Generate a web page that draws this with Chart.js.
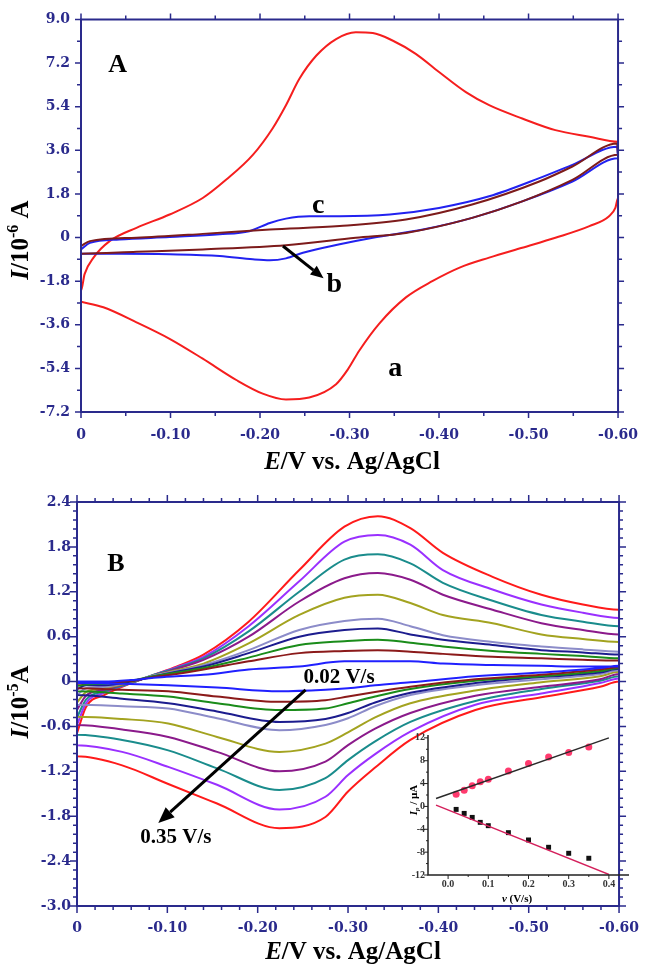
<!DOCTYPE html>
<html><head><meta charset="utf-8">
<script src="https://cdn.jsdelivr.net/npm/chart.js@4.4.1/dist/chart.umd.min.js"></script>
<style>
html,body{margin:0;padding:0;background:#fff;}
#wrap{position:relative;width:653px;height:969px;overflow:hidden;background:#fff;}
canvas{position:absolute;}
</style></head><body>
<div id="wrap">
<canvas id="cA" width="653" height="484" style="left:0;top:0;width:653px;height:484px"></canvas>
<canvas id="cB" width="653" height="485" style="left:0;top:484px;width:653px;height:485px"></canvas>
<canvas id="cI" width="253" height="192" style="left:380px;top:725px;width:253px;height:192px"></canvas>
</div>
<script>
// ---------------- Panel A data (E in V, I in 10^-6 A) ----------------
const A_X_TICKS = [0, -0.1, -0.2, -0.3, -0.4, -0.5, -0.6];
const A_Y_TICKS = [-7.2, -5.4, -3.6, -1.8, 0, 1.8, 3.6, 5.4, 7.2, 9.0];

const A_a_E = [0, -0.025, -0.062, -0.099, -0.136, -0.174, -0.203, -0.229, -0.255, -0.285, -0.298, -0.311, -0.333, -0.363, -0.393, -0.423, -0.456, -0.493, -0.530, -0.568, -0.590, -0.597, -0.600,
               -0.600, -0.568, -0.530, -0.493, -0.456, -0.430, -0.400, -0.374, -0.348, -0.326, -0.307, -0.285, -0.263, -0.244, -0.229, -0.214, -0.192, -0.162, -0.136, -0.099, -0.062, -0.032, -0.014, -0.004, 0, 0];
const A_a_I = [-2.65, -2.88, -3.50, -4.18, -5.00, -5.89, -6.44, -6.68, -6.60, -6.05, -5.45, -4.66, -3.56, -2.47, -1.79, -1.24, -0.83, -0.42, -0.01, 0.47, 0.88, 1.22, 1.63,
               3.95, 4.16, 4.43, 4.91, 5.46, 6.00, 6.83, 7.58, 8.13, 8.44, 8.47, 8.19, 7.51, 6.55, 5.46, 4.50, 3.41, 2.38, 1.63, 0.95, 0.40, -0.15, -0.83, -1.51, -2.20, -2.65];

const A_b_E = [0, -0.010, -0.062, -0.136, -0.211, -0.289, -0.363, -0.437, -0.512, -0.549, -0.599,
               -0.600, -0.549, -0.493, -0.437, -0.363, -0.307, -0.229, -0.136, -0.062, 0, 0];
const A_b_I = [-0.35, -0.15, -0.01, 0.15, 0.33, 0.47, 0.74, 1.36, 2.31, 2.93, 3.88,
               3.41, 2.38, 1.49, 0.81, 0.19, -0.01, -0.32, -0.49, -0.59, -0.67, -0.35];

const A_c_E = [0, -0.010, -0.043, -0.099, -0.155, -0.188, -0.211, -0.229, -0.255, -0.289, -0.345, -0.400, -0.456, -0.512, -0.549, -0.599,
               -0.600, -0.549, -0.493, -0.437, -0.382, -0.326, -0.289, -0.248, -0.229, -0.211, -0.192, -0.155, -0.099, -0.043, 0, 0];
const A_c_I = [-0.49, -0.22, -0.08, 0.02, 0.13, 0.26, 0.60, 0.78, 0.88, 0.88, 0.95, 1.22, 1.70, 2.45, 3.00, 3.75,
               3.27, 2.31, 1.49, 0.81, 0.33, -0.01, -0.28, -0.63, -0.86, -0.94, -0.90, -0.76, -0.69, -0.67, -0.67, -0.49];

// ---------------- Panel B data (E in V, I in 10^-5 A) ----------------
const B_X_TICKS = [0, -0.1, -0.2, -0.3, -0.4, -0.5, -0.6];
const B_Y_TICKS = [-3.0, -2.4, -1.8, -1.2, -0.6, 0, 0.6, 1.2, 1.8, 2.4];
const SCAN_RATES = [0.02, 0.04, 0.06, 0.08, 0.10, 0.15, 0.20, 0.25, 0.30, 0.35];
const B_E_FWD = [0, -0.01, -0.03, -0.06, -0.085, -0.11, -0.14, -0.19, -0.246, -0.296, -0.333, -0.369, -0.405, -0.46, -0.514, -0.56, -0.60];
const B_E_REV = [-0.60, -0.579, -0.514, -0.441, -0.369, -0.33, -0.30, -0.275, -0.224, -0.155, -0.101, -0.05, 0];

const B_FWD_002 = [0.00, 0.00, 0.00, 0.02, 0.05, 0.07, 0.09, 0.16, 0.20, 0.27, 0.27, 0.27, 0.24, 0.22, 0.21, 0.20, 0.20];
const B_FWD_004 = [-0.03, -0.02, -0.02, 0.01, 0.06, 0.10, 0.16, 0.27, 0.38, 0.41, 0.42, 0.40, 0.37, 0.33, 0.31, 0.29, 0.28];
const B_FWD_006 = [-0.06, -0.04, -0.03, 0.01, 0.07, 0.12, 0.18, 0.32, 0.49, 0.54, 0.56, 0.52, 0.47, 0.41, 0.37, 0.34, 0.31];
const B_FWD_008 = [-0.10, -0.05, -0.05, 0.00, 0.07, 0.13, 0.20, 0.38, 0.60, 0.69, 0.71, 0.63, 0.56, 0.49, 0.42, 0.39, 0.36];
const B_FWD_010 = [-0.18, -0.09, -0.07, 0.00, 0.08, 0.14, 0.22, 0.42, 0.69, 0.81, 0.84, 0.74, 0.62, 0.53, 0.47, 0.43, 0.40];
const B_FWD_015 = [-0.28, -0.14, -0.09, -0.01, 0.08, 0.15, 0.24, 0.51, 0.89, 1.12, 1.16, 1.05, 0.89, 0.78, 0.63, 0.57, 0.53];
const B_FWD_020 = [-0.38, -0.19, -0.11, -0.01, 0.08, 0.17, 0.29, 0.60, 1.07, 1.38, 1.45, 1.36, 1.16, 0.96, 0.78, 0.69, 0.63];
const B_FWD_025 = [-0.48, -0.24, -0.13, -0.02, 0.09, 0.18, 0.31, 0.67, 1.20, 1.63, 1.70, 1.58, 1.32, 1.08, 0.89, 0.80, 0.74];
const B_FWD_030 = [-0.58, -0.29, -0.15, -0.02, 0.09, 0.19, 0.33, 0.74, 1.34, 1.87, 1.96, 1.83, 1.49, 1.23, 1.03, 0.92, 0.85];
const B_FWD_035 = [-0.69, -0.34, -0.18, -0.02, 0.09, 0.20, 0.36, 0.80, 1.49, 2.07, 2.21, 2.05, 1.72, 1.40, 1.16, 1.03, 0.96];

const B_REV_002 = [0.21, 0.18, 0.12, 0.07, -0.01, -0.05, -0.09, -0.11, -0.13, -0.08, -0.05, -0.03, -0.02];
const B_REV_004 = [0.19, 0.16, 0.09, 0.03, -0.07, -0.14, -0.20, -0.25, -0.27, -0.20, -0.13, -0.11, -0.09];
const B_REV_006 = [0.18, 0.14, 0.07, 0.01, -0.10, -0.20, -0.29, -0.36, -0.38, -0.29, -0.20, -0.16, -0.13];
const B_REV_008 = [0.17, 0.12, 0.06, -0.02, -0.15, -0.28, -0.42, -0.50, -0.54, -0.40, -0.29, -0.23, -0.18];
const B_REV_010 = [0.15, 0.10, 0.03, -0.05, -0.18, -0.33, -0.49, -0.58, -0.65, -0.49, -0.36, -0.33, -0.31];
const B_REV_015 = [0.13, 0.07, -0.01, -0.12, -0.29, -0.48, -0.68, -0.83, -0.94, -0.74, -0.56, -0.50, -0.47];
const B_REV_020 = [0.10, 0.03, -0.07, -0.19, -0.42, -0.63, -0.85, -1.07, -1.20, -0.94, -0.74, -0.64, -0.58];
const B_REV_025 = [0.07, 0.01, -0.10, -0.26, -0.54, -0.80, -1.05, -1.29, -1.45, -1.16, -0.92, -0.78, -0.71];
const B_REV_030 = [0.04, -0.02, -0.16, -0.31, -0.67, -0.97, -1.25, -1.54, -1.71, -1.38, -1.14, -0.94, -0.85];
const B_REV_035 = [0.00, -0.07, -0.21, -0.38, -0.78, -1.15, -1.47, -1.81, -1.96, -1.63, -1.37, -1.12, -1.00];

// ---------------- Inset data (v in V/s, Ip in uA) ----------------
const INSET_X_TICKS = [0.0, 0.1, 0.2, 0.3, 0.4];
const INSET_Y_TICKS = [-12, -8, -4, 0, 4, 8, 12];
const INSET_V = [0.02, 0.04, 0.06, 0.08, 0.10, 0.15, 0.20, 0.25, 0.30, 0.35];
const INSET_IPA = [2.15, 2.85, 3.60, 4.30, 4.77, 6.22, 7.50, 8.66, 9.42, 10.40];
const INSET_IPC = [-0.52, -1.22, -1.92, -2.79, -3.37, -4.59, -5.87, -7.15, -8.20, -9.07];
const INSET_FIT_V = [-0.03, 0.40];
const INSET_FIT_A = [1.40, 12.00];
const INSET_FIT_C = [0.23, -11.90];

// ---------------- helpers ----------------
const zip = (E, I) => E.map((e, k) => ({x: e, y: I[k]}));
const loop = (Ef, If, Er, Ir) => { const p = zip(Ef, If).concat(zip(Er, Ir)); p.push({x: p[0].x, y: p[0].y}); return p; };
const AXIS = '#2a2a8c';
const SERIF = '"Liberation Serif", "Times New Roman", serif';

function fontFor(p, size) {
  const s = (p.s === 'sup' || p.s === 'sub') ? Math.round(size * 0.62) : size;
  return (p.i ? 'italic ' : '') + 'bold ' + s + 'px ' + SERIF;
}
function drawRich(ctx, parts, cx, cy, size, color) {
  ctx.fillStyle = color; ctx.textBaseline = 'middle'; ctx.textAlign = 'left';
  let w = 0;
  parts.forEach(p => { ctx.font = fontFor(p, size); w += ctx.measureText(p.t).width; });
  let x = cx - w / 2;
  parts.forEach(p => {
    ctx.font = fontFor(p, size);
    let dy = 0;
    if (p.s === 'sup') dy = -size * 0.32;
    if (p.s === 'sub') dy = size * 0.25;
    ctx.fillText(p.t, x, cy + dy);
    x += ctx.measureText(p.t).width;
  });
}
function subdiv(ticks, n) {
  const out = [];
  for (let k = 0; k < ticks.length - 1; k++) {
    for (let j = 1; j < n; j++) out.push(ticks[k] + (ticks[k + 1] - ticks[k]) * j / n);
  }
  return out;
}
function framePlugin(c) {
  return {
    id: 'frame',
    afterDraw(chart) {
      const ctx = chart.ctx, ca = chart.chartArea, xs = chart.scales.x, ys = chart.scales.y;
      ctx.save();
      ctx.strokeStyle = c.color; ctx.lineWidth = c.lw;
      ctx.beginPath();
      if (c.box) ctx.rect(ca.left, ca.top, ca.right - ca.left, ca.bottom - ca.top);
      else { ctx.moveTo(ca.left, ca.top); ctx.lineTo(ca.left, ca.bottom); ctx.lineTo(ca.right, ca.bottom); }
      ctx.stroke();
      ctx.lineWidth = c.tw;
      ctx.beginPath();
      const seg = (x1, y1, x2, y2) => { ctx.moveTo(x1, y1); ctx.lineTo(x2, y2); };
      const xt = (vals, len) => vals.forEach(v => { const p = xs.getPixelForValue(v); seg(p, ca.bottom, p, ca.bottom + len); if (c.box) seg(p, ca.top, p, ca.top - len); });
      const yt = (vals, len) => vals.forEach(v => { const p = ys.getPixelForValue(v); seg(ca.left, p, ca.left - len, p); if (c.box) seg(ca.right, p, ca.right + len, p); });
      xt(c.xTicks, c.major); xt(subdiv(c.xTicks, c.xDiv), c.minor);
      yt(c.yTicks, c.major); yt(subdiv(c.yTicks, c.yDiv), c.minor);
      ctx.stroke();
      ctx.restore();
    }
  };
}
function notesPlugin(notes, arrows, titles) {
  return {
    id: 'notes',
    afterDraw(chart) {
      const ctx = chart.ctx, xs = chart.scales.x, ys = chart.scales.y;
      ctx.save();
      ctx.fillStyle = '#000'; ctx.textAlign = 'center'; ctx.textBaseline = 'middle';
      notes.forEach(n => {
        ctx.font = 'bold ' + n.size + 'px ' + SERIF;
        ctx.fillText(n.text, xs.getPixelForValue(n.e), ys.getPixelForValue(n.i));
      });
      arrows.forEach(a => {
        const x1 = xs.getPixelForValue(a.e1), y1 = ys.getPixelForValue(a.i1);
        const x2 = xs.getPixelForValue(a.e2), y2 = ys.getPixelForValue(a.i2);
        const ang = Math.atan2(y2 - y1, x2 - x1);
        const hl = a.head, hw = a.head * 0.42;
        const bx = x2 - hl * Math.cos(ang), by = y2 - hl * Math.sin(ang);
        ctx.strokeStyle = '#000'; ctx.lineWidth = a.lw;
        ctx.beginPath(); ctx.moveTo(x1, y1); ctx.lineTo(bx, by); ctx.stroke();
        ctx.beginPath();
        ctx.moveTo(x2, y2);
        ctx.lineTo(bx + hw * Math.sin(ang), by - hw * Math.cos(ang));
        ctx.lineTo(bx - hw * Math.sin(ang), by + hw * Math.cos(ang));
        ctx.closePath(); ctx.fill();
      });
      titles.forEach(t => {
        ctx.save();
        ctx.translate(t.x, t.y);
        if (t.rot) ctx.rotate(-Math.PI / 2);
        drawRich(ctx, t.parts, 0, 0, t.size, '#000');
        ctx.restore();
      });
      ctx.restore();
    }
  };
}
function makeOptions(c) {
  return {
    responsive: false, maintainAspectRatio: false, animation: false, devicePixelRatio: 1, events: [],
    layout: {padding: c.pad},
    plugins: {legend: {display: false}, tooltip: {enabled: false}},
    elements: {point: {radius: 0}, line: {borderWidth: 2}},
    scales: {
      x: {
        type: 'linear', min: c.xMin, max: c.xMax, reverse: c.xReverse,
        grid: {display: false, drawTicks: false}, border: {display: false},
        afterBuildTicks: s => { s.ticks = c.xTicks.map(v => ({value: v})); },
        afterFit: s => { s.height = c.xH; },
        ticks: {padding: c.xPad, autoSkip: false, maxRotation: 0, minRotation: 0, font: c.font, color: c.tickColor, callback: c.xFmt}
      },
      y: {
        type: 'linear', min: c.yMin, max: c.yMax,
        grid: {display: false, drawTicks: false}, border: {display: false},
        afterBuildTicks: s => { s.ticks = c.yTicks.map(v => ({value: v})); },
        afterFit: s => { s.width = c.yW; },
        ticks: {padding: c.yPad, autoSkip: false, font: c.font, color: c.tickColor, callback: c.yFmt}
      }
    }
  };
}
const lineDs = (pts, color, w) => ({data: pts, showLine: true, borderColor: color, backgroundColor: color, borderWidth: w || 2,
  pointRadius: 0, tension: 0.4, cubicInterpolationMode: 'monotone', fill: false});
const fmtE = v => (Math.abs(v) < 1e-9 ? '0' : v.toFixed(2));
const fmtI = v => (Math.abs(v) < 1e-9 ? '0' : v.toFixed(1));
const mainFont = {family: '"DejaVu Serif", serif', weight: 'bold', size: 14};

// ---------------- Panel A ----------------
new Chart(document.getElementById('cA'), {
  type: 'scatter',
  data: {datasets: [
    lineDs(zip(A_b_E, A_b_I), '#7d1b1b'),
    lineDs(zip(A_c_E, A_c_I), '#2222f0'),
    lineDs(zip(A_a_E, A_a_I), '#f51e1e')
  ]},
  options: makeOptions({pad: {top: 18, right: 34, left: 0, bottom: 0}, xMin: -0.6, xMax: 0, xReverse: true,
    yMin: -7.2, yMax: 9.0, xTicks: A_X_TICKS, yTicks: A_Y_TICKS, xH: 72, yW: 81, xPad: 15, yPad: 11,
    font: mainFont, tickColor: AXIS, xFmt: fmtE, yFmt: fmtI}),
  plugins: [
    framePlugin({box: true, color: AXIS, lw: 2, tw: 1.5, major: 6, minor: 4, xTicks: A_X_TICKS, yTicks: A_Y_TICKS, xDiv: 2, yDiv: 2}),
    notesPlugin(
      [{text: 'A', e: -0.041, i: 7.10, size: 26}, {text: 'a', e: -0.351, i: -5.40, size: 28},
       {text: 'b', e: -0.283, i: -1.95, size: 28}, {text: 'c', e: -0.265, i: 1.30, size: 28}],
      [{e1: -0.2256, i1: -0.35, e2: -0.271, i2: -1.68, head: 13, lw: 3}],
      [{parts: [{t: 'E', i: true}, {t: '/V vs. Ag/AgCl'}], x: 352, y: 463, size: 25},
       {parts: [{t: 'I', i: true}, {t: '/10'}, {t: '-6', s: 'sup'}, {t: ' A'}], x: 22, y: 240, size: 25, rot: true}]
    )
  ]
});

// ---------------- Panel B ----------------
const B_COLORS = ['#2020ff', '#8b1a1a', '#1a8c1a', '#1c1c8e', '#8c8cc9', '#a3a320', '#8b1a8b', '#1a8c8c', '#9a30ff', '#ff1a1a'];
const B_FWD = [B_FWD_002, B_FWD_004, B_FWD_006, B_FWD_008, B_FWD_010, B_FWD_015, B_FWD_020, B_FWD_025, B_FWD_030, B_FWD_035];
const B_REV = [B_REV_002, B_REV_004, B_REV_006, B_REV_008, B_REV_010, B_REV_015, B_REV_020, B_REV_025, B_REV_030, B_REV_035];
new Chart(document.getElementById('cB'), {
  type: 'scatter',
  data: {datasets: SCAN_RATES.map((r, k) => Object.assign(lineDs(loop(B_E_FWD, B_FWD[k], B_E_REV, B_REV[k]), B_COLORS[k]), {label: r + ' V/s'}))},
  options: makeOptions({pad: {top: 18, right: 24, left: 0, bottom: 0}, xMin: -0.6, xMax: 0, xReverse: true,
    yMin: -3.0, yMax: 2.4, xTicks: B_X_TICKS, yTicks: B_Y_TICKS, xH: 63, yW: 77, xPad: 14, yPad: 6,
    font: mainFont, tickColor: AXIS, xFmt: fmtE, yFmt: fmtI}),
  plugins: [
    framePlugin({box: true, color: AXIS, lw: 2, tw: 1.5, major: 7, minor: 4, xTicks: B_X_TICKS, yTicks: B_Y_TICKS, xDiv: 5, yDiv: 5}),
    notesPlugin(
      [{text: 'B', e: -0.043, i: 1.57, size: 26}, {text: '0.02 V/s', e: -0.290, i: 0.05, size: 21},
       {text: '0.35 V/s', e: -0.1095, i: -2.08, size: 21}],
      [{e1: -0.253, i1: -0.11, e2: -0.090, i2: -1.89, head: 16, lw: 3}],
      [{parts: [{t: 'E', i: true}, {t: '/V vs. Ag/AgCl'}], x: 353, y: 469, size: 25},
       {parts: [{t: 'I', i: true}, {t: '/10'}, {t: '-5', s: 'sup'}, {t: 'A'}], x: 22, y: 218, size: 25, rot: true}]
    )
  ]
});

// ---------------- Inset ----------------
new Chart(document.getElementById('cI'), {
  type: 'scatter',
  data: {datasets: [
    {data: zip(INSET_FIT_V, INSET_FIT_A), showLine: true, borderColor: '#2a2a2a', borderWidth: 1.5, pointRadius: 0, tension: 0},
    {data: zip(INSET_FIT_V, INSET_FIT_C), showLine: true, borderColor: '#d4205c', borderWidth: 1.5, pointRadius: 0, tension: 0},
    {data: zip(INSET_V, INSET_IPA), showLine: false, pointStyle: 'circle', pointRadius: 3.5, backgroundColor: '#ff3a6e', borderColor: '#ff3a6e', borderWidth: 0},
    {data: zip(INSET_V, INSET_IPC), showLine: false, pointStyle: 'rect', pointRadius: 3.5, backgroundColor: '#111', borderColor: '#111', borderWidth: 0}
  ]},
  options: makeOptions({pad: {top: 10, right: 3, left: 0, bottom: 0}, xMin: -0.05, xMax: 0.45, xReverse: false,
    yMin: -12, yMax: 12.5, xTicks: INSET_X_TICKS, yTicks: INSET_Y_TICKS, xH: 42, yW: 48, xPad: 3, yPad: 3,
    font: {family: SERIF, weight: 'bold', size: 10}, tickColor: '#333', xFmt: v => v.toFixed(1), yFmt: v => String(v)}),
  plugins: [
    framePlugin({box: false, color: '#222', lw: 1.5, tw: 1, major: 4, minor: 2, xTicks: INSET_X_TICKS, yTicks: INSET_Y_TICKS, xDiv: 2, yDiv: 2}),
    notesPlugin([], [],
      [{parts: [{t: 'v', i: true}, {t: ' (V/s)'}], x: 137, y: 174, size: 11},
       {parts: [{t: 'I', i: true}, {t: 'p', i: true, s: 'sub'}, {t: ' / µA'}], x: 34, y: 75, size: 11, rot: true}]
    )
  ]
});
</script>
</body></html>
